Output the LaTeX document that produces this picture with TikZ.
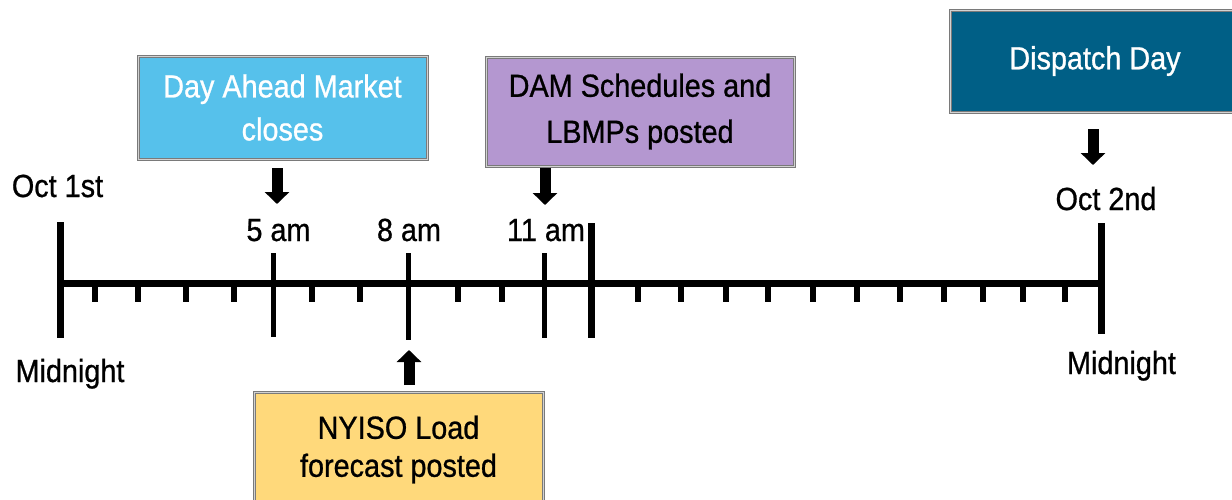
\documentclass[tikz,border=0pt]{standalone}
\usepackage{fontspec}
\setmainfont{Liberation Sans}[FakeStretch=0.9, FakeBold=0.8]
\usetikzlibrary{arrows.meta}
\definecolor{dablue}{HTML}{56C1EB}
\definecolor{dapurple}{HTML}{B497D0}
\definecolor{dadark}{HTML}{005F86}
\definecolor{dayellow}{HTML}{FFD97B}
\definecolor{frame}{HTML}{7A7A7A}
\begin{document}
\begin{tikzpicture}[x=1pt,y=-1pt,
  every node/.style={inner sep=0pt, outer sep=0pt, font=\fontsize{32}{42}\selectfont},
  evbox/.style={draw=frame, line width=1pt, double=gray!35, double distance=1pt, align=center},
  lbl/.style={anchor=base},
  axis/.style={line width=7pt},
  bigtick/.style={line width=7pt},
  midtick/.style={line width=5pt},
  smalltick/.style={line width=6pt},
  fat/.style={line width=11pt, -{Triangle[width=24pt,length=12pt]}}]
\useasboundingbox (0,0) rectangle (1232,499);
% boxes
\node[evbox, fill=dablue, text=white, minimum width=289pt, minimum height=103pt,
  font=\fontsize{32}{43}\selectfont] (dam) at (282.5,107.5) {Day Ahead Market\\closes};
\node[evbox, fill=dapurple, text=black, minimum width=308pt, minimum height=109pt,
  font=\fontsize{32}{46}\selectfont] (sched) at (640,111.5) {DAM Schedules and\\LBMPs posted};
\node[evbox, fill=dadark, text=white, minimum width=290pt, minimum height=102pt] (disp) at (1095,61) {Dispatch Day};
\node[evbox, fill=dayellow, text=black, minimum width=289pt, minimum height=115pt,
  font=\fontsize{32}{38}\selectfont] (nyiso) at (398.5,449.5) {NYISO Load\\forecast posted};
% axis
\coordinate (L) at (57,283.5);
\coordinate (R) at (1101,283.5);
\draw[axis] (L) -- (R);
% big ticks
\coordinate (t0a) at (60.5,222); \coordinate (t0b) at (60.5,338);
\draw[bigtick] (t0a) -- (t0b);
\coordinate (t12a) at (591,223); \coordinate (t12b) at (591,338);
\draw[bigtick] (t12a) -- (t12b);
\coordinate (t24a) at (1101,223); \coordinate (t24b) at (1101,334);
\draw[bigtick] (t24a) -- (t24b);
% medium ticks
\coordinate (t5a) at (273,253); \coordinate (t5b) at (273,337);
\draw[midtick] (t5a) -- (t5b);
\coordinate (t8a) at (408,253); \coordinate (t8b) at (408,340);
\draw[midtick] (t8a) -- (t8b);
\coordinate (t11a) at (544,253); \coordinate (t11b) at (544,338);
\draw[midtick] (t11a) -- (t11b);
% small ticks
\foreach \x in {95,138,186,234,312,360,458,502,638,681,726,768,813,857,900,944,983,1023,1065}
  \draw[smalltick] (\x,283) -- (\x,302);
% labels
\node[lbl] (oct1) at (57.5,197) {Oct 1st};
\node[lbl] (mid1) at (70,382) {Midnight};
\node[lbl] (h5) at (278.5,241) {5 am};
\node[lbl] (h8) at (409,241) {8 am};
\node[lbl] (h11) at (546,241) {11 am};
\node[lbl] (oct2) at (1106,210) {Oct 2nd};
\node[lbl] (mid2) at (1121.5,374) {Midnight};
% arrows
\coordinate (a1s) at (277,168); \coordinate (a1e) at (277,204);
\draw[fat] (a1s) -- (a1e);
\coordinate (a2s) at (545,168); \coordinate (a2e) at (545,205);
\draw[fat] (a2s) -- (a2e);
\coordinate (a3s) at (1093,129); \coordinate (a3e) at (1093,165);
\draw[fat] (a3s) -- (a3e);
\coordinate (a4s) at (409,385); \coordinate (a4e) at (409,350);
\draw[fat] (a4s) -- (a4e);
\end{tikzpicture}
\end{document}
